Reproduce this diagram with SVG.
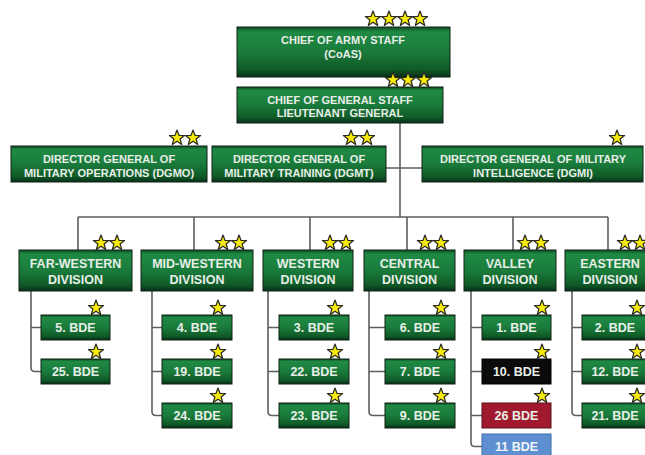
<svg xmlns="http://www.w3.org/2000/svg" xmlns:xlink="http://www.w3.org/1999/xlink" width="645" height="455" viewBox="0 0 645 455">
<defs>
<linearGradient id="gr" x1="0" y1="0" x2="0" y2="1">
<stop offset="0" stop-color="#0f4a22"/>
<stop offset="0.1" stop-color="#1f8a44"/>
<stop offset="0.5" stop-color="#1a7b3b"/>
<stop offset="0.85" stop-color="#0f5a27"/>
<stop offset="1" stop-color="#08301a"/>
</linearGradient>
<path id="star" d="M0,-8 L1.94,-2.67 L7.61,-2.47 L3.14,1.02 L4.7,6.47 L0,3.3 L-4.7,6.47 L-3.14,1.02 L-7.61,-2.47 L-1.94,-2.67Z" fill="#f6e90c" stroke="#2a2a22" stroke-width="1.2" stroke-linejoin="round"/>
<style>
.b{fill:url(#gr);stroke:#102015;stroke-width:1}
.t{font-family:"Liberation Sans",Arial,sans-serif;font-weight:bold;fill:#e8eee8;text-anchor:middle}
.s{font-size:11px}
.m{font-size:12.5px}
.c{fill:none;stroke:#5e5e5e;stroke-width:1.6}
</style>
</defs>
<rect width="645" height="455" fill="#ffffff"/>
<g id="connectors" class="c">
<path d="M400,123 V217 M386,168 H422 M78,217 H608 M78,217 V250 M194,217 V250 M310,217 V250 M407,217 V250 M513,217 V250 M608,217 V250"/>
<path d="M31,291 V367.5 Q31,371.5 35,371.5 H41 M31,327.5 H41"/>
<path d="M152,291 V411.5 Q152,415.5 156,415.5 H162 M152,327.5 H162 M152,371.5 H162"/>
<path d="M268,291 V411.5 Q268,415.5 272,415.5 H279 M268,327.5 H279 M268,371.5 H279"/>
<path d="M369,291 V411.5 Q369,415.5 373,415.5 H385 M369,327.5 H385 M369,371.5 H385"/>
<path d="M471,291 V442.5 Q471,446.5 475,446.5 H482 M471,327.5 H482 M471,371.5 H482 M471,415.5 H482"/>
<path d="M572,291 V411.5 Q572,415.5 576,415.5 H582 M572,327.5 H582 M572,371.5 H582"/>
</g>
<g id="coas">
<rect class="b" x="237" y="27" width="213" height="50"/>
<use xlink:href="#star" x="373" y="19"/><use xlink:href="#star" x="389" y="19"/><use xlink:href="#star" x="405" y="19"/><use xlink:href="#star" x="420" y="19"/>
<text class="t s" x="343" y="44">CHIEF OF ARMY STAFF</text>
<text class="t s" x="343" y="58">(CoAS)</text>
</g>
<g id="cgs">
<rect class="b" x="237" y="87" width="206" height="36"/>
<use xlink:href="#star" x="393" y="80"/><use xlink:href="#star" x="408" y="80"/><use xlink:href="#star" x="424" y="80"/>
<text class="t s" x="340" y="103.5">CHIEF OF GENERAL STAFF</text>
<text class="t s" x="340" y="117">LIEUTENANT GENERAL</text>
</g>
<g id="dgmo">
<rect class="b" x="11" y="146" width="196" height="36"/>
<use xlink:href="#star" x="177" y="138"/><use xlink:href="#star" x="193" y="138"/>
<text class="t s" x="109" y="162.5">DIRECTOR GENERAL OF</text>
<text class="t s" x="109" y="176.5">MILITARY OPERATIONS (DGMO)</text>
</g>
<g id="dgmt">
<rect class="b" x="212" y="146" width="174" height="36"/>
<use xlink:href="#star" x="351" y="138"/><use xlink:href="#star" x="367" y="138"/>
<text class="t s" x="299" y="162.5">DIRECTOR GENERAL OF</text>
<text class="t s" x="299" y="176.5">MILITARY TRAINING (DGMT)</text>
</g>
<g id="dgmi">
<rect class="b" x="422" y="146" width="221" height="36"/>
<use xlink:href="#star" x="617" y="138"/>
<text class="t s" x="533" y="162.5">DIRECTOR GENERAL OF MILITARY</text>
<text class="t s" x="533" y="176.5">INTELLIGENCE (DGMI)</text>
</g>
<g id="div-farwestern">
<rect class="b" x="19" y="250" width="113" height="41"/>
<use xlink:href="#star" x="101" y="243"/><use xlink:href="#star" x="117" y="243"/>
<text class="t m" x="75.5" y="267.5">FAR-WESTERN</text>
<text class="t m" x="75.5" y="283.5">DIVISION</text>
</g>
<g id="div-midwestern">
<rect class="b" x="141" y="250" width="112" height="41"/>
<use xlink:href="#star" x="223" y="243"/><use xlink:href="#star" x="239" y="243"/>
<text class="t m" x="197" y="267.5">MID-WESTERN</text>
<text class="t m" x="197" y="283.5">DIVISION</text>
</g>
<g id="div-western">
<rect class="b" x="263" y="250" width="90" height="41"/>
<use xlink:href="#star" x="330" y="243"/><use xlink:href="#star" x="346" y="243"/>
<text class="t m" x="308" y="267.5">WESTERN</text>
<text class="t m" x="308" y="283.5">DIVISION</text>
</g>
<g id="div-central">
<rect class="b" x="364" y="250" width="91" height="41"/>
<use xlink:href="#star" x="425" y="243"/><use xlink:href="#star" x="441" y="243"/>
<text class="t m" x="409.5" y="267.5">CENTRAL</text>
<text class="t m" x="409.5" y="283.5">DIVISION</text>
</g>
<g id="div-valley">
<rect class="b" x="464" y="250" width="92" height="41"/>
<use xlink:href="#star" x="525" y="243"/><use xlink:href="#star" x="541" y="243"/>
<text class="t m" x="510" y="267.5">VALLEY</text>
<text class="t m" x="510" y="283.5">DIVISION</text>
</g>
<g id="div-eastern">
<rect class="b" x="565" y="250" width="90" height="41"/>
<use xlink:href="#star" x="625" y="243"/><use xlink:href="#star" x="640" y="243"/>
<text class="t m" x="610" y="267.5">EASTERN</text>
<text class="t m" x="610" y="283.5">DIVISION</text>
</g>
<g id="bde-5"><rect class="b" x="41" y="315" width="69" height="25"/><use xlink:href="#star" x="96" y="308"/><text class="t m" x="75.5" y="332">5. BDE</text></g>
<g id="bde-25"><rect class="b" x="41" y="359" width="69" height="25"/><use xlink:href="#star" x="96" y="352"/><text class="t m" x="75.5" y="376">25. BDE</text></g>
<g id="bde-4"><rect class="b" x="162" y="315" width="70" height="25"/><use xlink:href="#star" x="218" y="308"/><text class="t m" x="197" y="332">4. BDE</text></g>
<g id="bde-19"><rect class="b" x="162" y="359" width="70" height="25"/><use xlink:href="#star" x="218" y="352"/><text class="t m" x="197" y="376">19. BDE</text></g>
<g id="bde-24"><rect class="b" x="162" y="403" width="70" height="25"/><use xlink:href="#star" x="218" y="396"/><text class="t m" x="197" y="420">24. BDE</text></g>
<g id="bde-3"><rect class="b" x="279" y="315" width="70" height="25"/><use xlink:href="#star" x="335" y="308"/><text class="t m" x="314" y="332">3. BDE</text></g>
<g id="bde-22"><rect class="b" x="279" y="359" width="70" height="25"/><use xlink:href="#star" x="335" y="352"/><text class="t m" x="314" y="376">22. BDE</text></g>
<g id="bde-23"><rect class="b" x="279" y="403" width="70" height="25"/><use xlink:href="#star" x="335" y="396"/><text class="t m" x="314" y="420">23. BDE</text></g>
<g id="bde-6"><rect class="b" x="385" y="315" width="70" height="25"/><use xlink:href="#star" x="441" y="308"/><text class="t m" x="420" y="332">6. BDE</text></g>
<g id="bde-7"><rect class="b" x="385" y="359" width="70" height="25"/><use xlink:href="#star" x="441" y="352"/><text class="t m" x="420" y="376">7. BDE</text></g>
<g id="bde-9"><rect class="b" x="385" y="403" width="70" height="25"/><use xlink:href="#star" x="441" y="396"/><text class="t m" x="420" y="420">9. BDE</text></g>
<g id="bde-1"><rect class="b" x="482" y="315" width="69" height="25"/><use xlink:href="#star" x="542" y="308"/><text class="t m" x="516.5" y="332">1. BDE</text></g>
<g id="bde-10"><rect x="482" y="359" width="69" height="25" fill="#0b0b0b" stroke="#000" stroke-width="1"/><use xlink:href="#star" x="542" y="352"/><text class="t m" x="516.5" y="376">10. BDE</text></g>
<g id="bde-26"><rect x="482" y="403" width="69" height="25" fill="#a1192e" stroke="#5a1018" stroke-width="1"/><use xlink:href="#star" x="542" y="396"/><text class="t m" x="516.5" y="420">26 BDE</text></g>
<g id="bde-11"><rect x="482" y="434" width="69" height="25" fill="#5d8fd1" stroke="#3d6aa8" stroke-width="1"/><text class="t m" x="516.5" y="451" style="fill:#f2f5fa">11 BDE</text></g>
<g id="bde-2"><rect class="b" x="582" y="315" width="68" height="25"/><use xlink:href="#star" x="637" y="308"/><text class="t m" x="615" y="332">2. BDE</text></g>
<g id="bde-12"><rect class="b" x="582" y="359" width="68" height="25"/><use xlink:href="#star" x="637" y="352"/><text class="t m" x="615" y="376">12. BDE</text></g>
<g id="bde-21"><rect class="b" x="582" y="403" width="68" height="25"/><use xlink:href="#star" x="637" y="396"/><text class="t m" x="615" y="420">21. BDE</text></g>
</svg>
